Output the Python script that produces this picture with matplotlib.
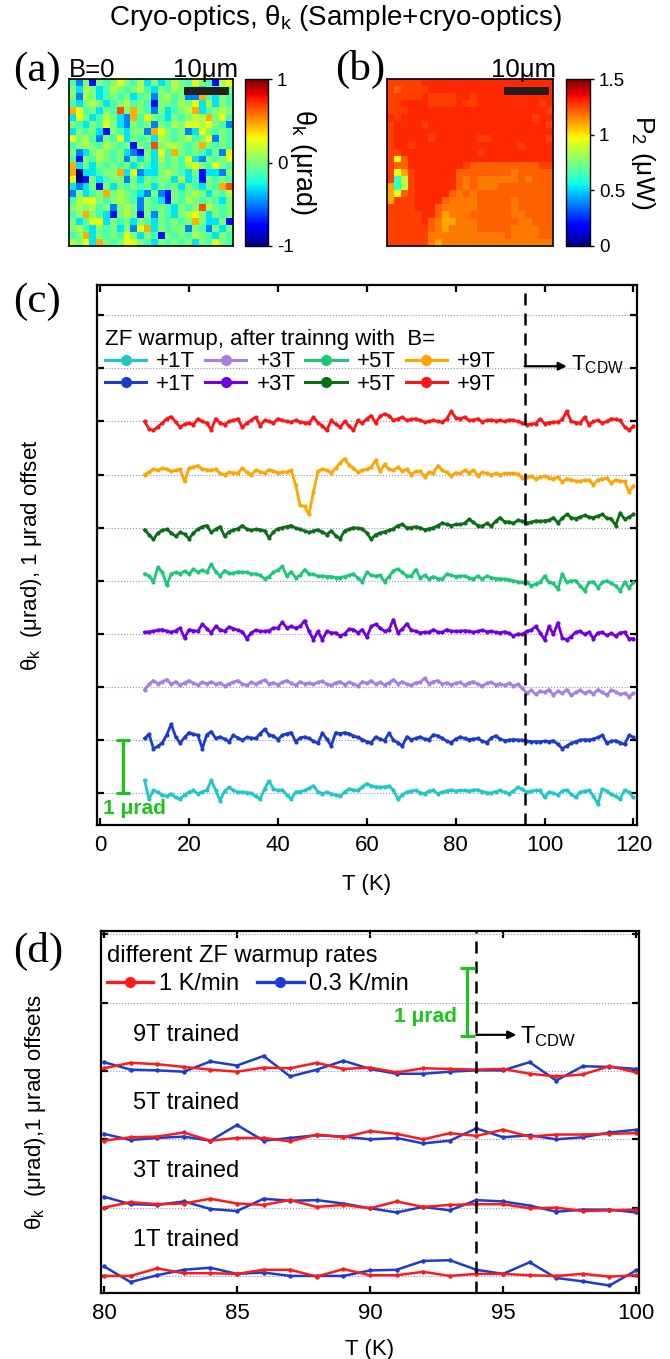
import numpy as np
import matplotlib
matplotlib.use("Agg")
import matplotlib.pyplot as plt
from matplotlib.lines import Line2D
from matplotlib.patches import Rectangle

plt.rcParams['font.family'] = ['Liberation Sans', 'DejaVu Sans']
plt.rcParams['mathtext.fontset'] = 'custom'
plt.rcParams['mathtext.rm'] = 'Liberation Sans'
plt.rcParams['mathtext.it'] = 'Liberation Sans:italic'
plt.rcParams['mathtext.bf'] = 'Liberation Sans:bold'
plt.rcParams['axes.unicode_minus'] = False

# ---------------- data ----------------
# (a) Kerr map at B=0, one character per pixel (level codes below)
map_a_rows = [
    "glGbGgGYGgycGcgyGgYGgbyY",
    "GcyGcgyGgGygcGgyGgGcGgyG",
    "GlyGcgGgGcgGlGygGllogcGg",
    "gcGyGcgGygGgbGGgyGYcycGg",
    "oYgGcGgrGoGglGcgGyocgGyG",
    "cYGcgyGclogYGgcGgGyyoGYg",
    "GgcGgYGclGgGlGgyGYYyYGgl",
    "cGgGcbGgcGGloYGgGlcYGgGg",
    "YGyglGgYcGgGcyGgGygGYlGg",
    "gGyGgyGgGbGgrGyyGgGoGgGg",
    "GlcGyGgGclbGcYgoGgGgcGlY",
    "gbGgyGgGlGcGcygGgYclGgGY",
    "ocGcGgGgGcGgcGgGgyYGgYGg",
    "oBccgGGocYlccGyGgcGbcclG",
    "YBbGcgGGlGcGgGGcycgbGgGg",
    "clcGbGcGgGgGcGgGcGgcGgor",
    "lGcgGoGyGgclGlbGgGyGcGgy",
    "gyYYGgGyGglGgcbGgyGgGgcG",
    "GyGygGlGyGlGgGgcGgGryGgG",
    "gGoGgcbGyGbGlGgcGyYGcGgG",
    "GcgYYcGgGcGgcGgGgGoGccGb",
    "GygcGgGcGlYocGgGGlGglGcG",
    "gGocGgGgYGcGgbGgGgyGgcGg",
    "yGYcoGgGYYGgcGgGgGcGgYGg",
]
level_a = {'B': -1.0, 'b': -0.72, 'l': -0.5, 'c': -0.3, 'g': -0.12,
           'G': 0.0, 'y': 0.12, 'Y': 0.25, 'o': 0.45, 'r': 0.65}

# (b) reflected power map P2
map_b_rows = [
    "rrrrrRRRRRRRRRRRRRRRRRRR",
    "rorrrrRRRRRRRRRRRRRRRRRR",
    "rrrrrRrrrrRRrRRRRRRRRRRR",
    "rrRRRRrrrrRrrRRRRRRRRRrR",
    "rrrRRRRRRRRRRRRRRRRRRRRr",
    "RrRRRRRRRRRRRRRRRRRRRrRR",
    "rRRRRrRRRRRRRRRRRRRRRRRr",
    "rRRRRRRRRRRRRRRRRRRRRRRR",
    "rRRRRRrRRRRRRrrRRRRRRRRr",
    "rRRrRRRRRRRRRRRRRRRrRRRR",
    "rrRRRRRRRRRRRrRRRRRRRRRR",
    "rYoRRRRRRRRRRRRRRRRRRRRR",
    "rooRRRRRRRRroooooooooorr",
    "rYyrRRRRRRooooooooOooooo",
    "rCLrRRRRRRoOoOOOOOOoOooo",
    "yCLrRRRRRRoOoOOOoooooooo",
    "yYorRRRRRoOoOooooooooooo",
    "yrrrRRRRoOOOOoooooOooooo",
    "rrrrRRRoOOOOOoooooOooooo",
    "rrrrrRRoyOOOooooooOOoooo",
    "rrrrrRoOyyOOOooooooOOooo",
    "rrrrrroOyOOOOoooooOOOOoo",
    "rrrrrrOOOOOOOOOOOoOOOOoo",
    "rrrrrrOyOOOOOOOOOOOOOOOO",
]
level_b = {'R': 1.30, 'r': 1.26, 'o': 1.21, 'O': 1.17, 'y': 1.10,
           'Y': 0.95, 'L': 0.85, 'C': 0.62}

# (c) ZF warmup traces, T = 10..120 K, deviations in 0.01 urad
T_c = np.arange(10, 121)
labels_c = ["+1T", "+1T", "+3T", "+3T", "+5T", "+5T", "+9T", "+9T"]
colors_c = ["#1ec8c8", "#1a3cc8", "#a87ee0", "#7000e0",
            "#1cc878", "#0a6e14", "#ffa500", "#ff1414"]
dev_cyan = [24, -11, 5, 2, -4, -6, -1, -8, -11, -3,
            2, 5, -1, 3, 5, 24, 6, -14, 4, 11,
            5, 2, 2, 1, 0, -6, -11, 8, 23, 8,
            5, 6, -3, -11, 2, 3, 5, 9, 14, 3,
            -1, 2, -1, -3, -6, 2, 8, 6, 5, 12,
            18, 14, 12, 11, 12, 13, 6, -11, -3, 2,
            4, 5, 1, -1, 4, 5, -1, 2, 4, 6,
            4, 5, 5, 4, 6, 6, 3, 1, 0, 3,
            5, 2, -1, 4, 11, 7, 2, 4, 5, 5,
            -8, 2, 0, -3, 4, 6, -2, -8, 2, 4,
            5, -5, -21, 8, 4, -2, -6, -11, 6, 2,
            -8]
dev_blue = [3, 11, -16, -12, -5, 10, 30, 6, -6, 5,
            14, 11, 9, -16, 10, 16, 3, 6, 2, -3,
            9, 4, 0, 5, 4, 3, 12, 20, 10, 8,
            1, 9, 12, 14, -3, 4, 6, 3, -2, -6,
            13, 2, -11, 14, 12, 14, 12, 8, 5, 1,
            -3, -5, 6, 2, -1, 13, 0, -5, -11, 6,
            1, 3, 6, 2, 1, 10, 8, 3, -2, -5,
            2, 6, 3, 1, 2, 3, -2, -5, 4, 8,
            2, -1, 0, 1, 0, 0, -2, -3, -3, -3,
            -2, -3, -1, -8, -16, -11, -6, -3, 0, 1,
            0, 2, 5, 9, -6, -2, -1, -5, -8, 9,
            5]
dev_lavender = [-5, 5, 12, 6, 10, 14, 5, 10, 3, 8,
                12, 7, 4, 9, 6, 10, 5, 8, 2, 6,
                9, 12, 6, 3, 9, 5, 10, 13, 6, 8,
                4, 9, 12, 7, 3, 10, 6, 8, 5, 9,
                11, 5, 3, 8, 10, 4, 9, 6, 2, 10,
                7, 12, 5, 9, 4, 8, 14, 6, 10, 5,
                3, 8, 9, 16, 6, 10, 12, 5, 8, 4,
                7, 9, 3, 8, 10, 5, 2, 7, 9, 4,
                6, 3, 7, 2, 5, -2, -12, -6, -14, -8,
                -10, -5, -15, -8, -12, -5, -16, -10, -6, -12,
                -8, -13, -5, -10, -15, -6, -9, -14, -12, -18,
                -12]
dev_purple = [3, 4, 5, 7, 8, 5, 3, 6, 11, -8,
              8, 6, 5, 18, 10, 2, 14, 8, 5, 13,
              10, 7, 4, -9, 2, 7, 5, 5, 6, 11,
              11, 22, 11, 14, 11, 14, 25, 5, -11, 5,
              -11, 5, 2, 2, -4, 0, 9, 8, 2, 8,
              -6, 14, 18, 11, 5, 8, 27, 2, 9, 19,
              7, 5, 2, 3, 3, 8, 3, 3, 8, 5,
              5, 5, 6, 5, 3, 5, 7, 4, 5, 3,
              2, 4, 1, -4, 0, -1, 5, 7, 14, 2,
              -11, 14, -1, 21, -8, -11, -5, 3, 5, -1,
              3, -9, 2, 3, -3, 1, -4, 2, 3, -9,
              -9]
dev_green = [13, 9, -2, 25, 16, -8, 13, 16, 13, 18,
             13, 22, 16, 20, 16, 31, 17, 9, 19, 14,
             14, 17, 16, 16, 13, 13, 10, 4, 8, 16,
             20, 27, 9, 17, 6, 10, 21, 13, 12, 9,
             9, 8, 8, 6, 6, 8, 10, 13, 5, -2,
             16, 10, 9, 10, -2, 8, 19, 22, 16, 9,
             9, 21, 6, 10, 4, 8, 4, 3, 13, 10,
             8, 9, 9, 6, 3, 9, 3, 9, 6, 4,
             4, 3, 2, 0, -2, -3, -3, -9, -6, -3,
             9, -3, -5, -16, 13, -3, 0, 0, -9, -19,
             -3, -2, -13, -3, 0, -5, -9, -19, -3, -13,
             -3]
dev_dkgreen = [-4, -13, -22, -10, -5, -3, -10, -16, -9, -12,
               -21, -10, -3, 2, 4, -9, -3, 2, -16, -8,
               -4, -2, 4, -3, -5, -3, -4, -6, -19, -8,
               -2, 0, 2, 4, -1, -3, -6, -9, -6, -4,
               -8, -13, -6, -15, -21, -6, -3, 0, -1, -2,
               -10, -22, -13, -10, -8, -5, -2, 4, 6, 0,
               0, 2, 0, -4, -2, 0, 4, 9, 6, 4,
               6, 6, 8, 16, 10, 4, 3, 8, 3, 12,
               19, 11, 11, 8, 14, 12, 9, 10, 13, 12,
               13, 14, 19, 9, 18, 25, 19, 17, 20, 23,
               20, 19, 22, 25, 18, 17, 4, 28, 16, 20,
               25]
dev_orange = [0, 5, 10, 8, 12, 10, 6, 8, 10, -13,
              12, 14, 17, 10, 9, 8, 10, 2, 0, 4,
              3, 3, 12, 4, 0, 8, 5, 3, 9, 7,
              3, 4, 5, 8, -20, -58, -60, -75, -33, 6,
              10, 8, 3, 12, 22, 30, 18, 12, 4, 8,
              10, 14, 27, 6, 19, 10, 8, 14, 6, 10,
              0, 6, 6, -4, 4, 3, 17, 8, 4, -2,
              3, 2, 8, 3, 8, -2, 4, 2, 0, 2,
              0, 2, 2, 2, 1, -6, -4, -3, -8, -5,
              -3, -6, -8, -5, -14, -8, -10, -12, -13, -10,
              -11, -19, -10, -8, -7, -16, -10, -12, -13, -33,
              -21]
dev_red = [0, -14, -17, -10, -3, 5, 9, -1, -11, -5,
           -3, -6, 5, 0, -3, -16, 5, -3, -6, 0,
           2, 5, -11, -3, 2, 8, -8, 2, 0, -3,
           5, 2, 0, -1, 2, -1, -2, -3, 8, -2,
           -8, -17, 2, -5, -11, 0, -8, -17, 2, -3,
           5, 11, -3, 10, 14, 11, 2, 5, 8, 2,
           4, 5, 2, -1, 0, 2, 0, -1, 5, 19,
           7, 5, 8, 2, 3, 5, -1, 2, 3, 1,
           2, 0, 3, 2, 0, -3, -6, -5, -4, 5,
           -4, -2, -1, -1, 4, 19, 0, -2, -3, 8,
           -6, 0, 2, -3, 0, 5, 4, 2, -10, -16,
           -9]
devs_c = [dev_cyan, dev_blue, dev_lavender, dev_purple,
          dev_green, dev_dkgreen, dev_orange, dev_red]
T_cdw_c = 95.5

# (d) warmup-rate comparison, T = 80..100 K, deviations in 0.01 urad
T_d = np.arange(80, 101)
trained_d = ["1T trained", "3T trained", "5T trained", "9T trained"]
dev_d_fast = [  # 1 K/min
    [0, 0, 11, 4, 4, 3, 9, 9, -1, 10, 1, 1, 6, 0, 3, 3, 1, 0, 3, -1, 1],
    [0, 8, 5, 6, 13, 6, 4, 11, 1, 4, -1, 9, 1, 4, 5, 5, -1, 0, -5, -4, -3],
    [-2, 3, 4, 10, -2, 2, 2, -3, 7, 3, 12, 8, 0, 9, 5, 14, 4, 7, 7, 8, 9],
    [4, 12, 10, 6, 2, -1, 5, 4, 12, 3, 5, -2, 4, 3, 2, 3, -4, -8, -5, 7, -2],
]
dev_d_slow = [  # 0.3 K/min
    [14, -9, 1, 9, 12, 3, 5, 0, 0, 0, 8, 9, 22, 23, 9, 3, 20, -3, -8, -14, 8],
    [16, 5, 4, 9, -2, -5, 13, 10, 11, 6, -1, -7, 1, -4, 11, 9, 3, -6, -3, -3, -7],
    [8, -1, 2, 4, -2, 21, -2, 2, 6, 4, 0, 2, -6, -2, 16, 3, 6, 0, 3, 10, 14],
    [13, 2, 1, -1, 14, 8, 22, -8, 2, 15, 3, -4, -4, -1, 1, 1, 13, -14, 7, 6, 3],
]
rate_labels = ["1 K/min", "0.3 K/min"]
rate_colors = ["#ff1a1a", "#1a3cd2"]
T_cdw_d = 94.0

scale_green = "#14c814"
bar_c = (5.1, 0.0, 1.0)        # x, y_low, y_high
bar_d = (93.65, 3.52, 4.51)

# ---------------- figure ----------------
W, H = 670, 1359
fig = plt.figure(figsize=(W / 100, H / 100), dpi=100)


def px_axes(x0, y0, x1, y1):
    return fig.add_axes([x0 / W, 1 - y1 / H, (x1 - x0) / W, (y1 - y0) / H])


fig.text(0.5, 1 - 18 / H, "Cryo-optics, θ$_\\mathrm{k}$ (Sample+cryo-optics)",
         ha='center', va='center', fontsize=20)

serif = dict(family='Liberation Serif', fontsize=31, va='center', ha='left')
fig.text(13 / W, 1 - 71 / H, "(a)", **serif)
fig.text(335 / W, 1 - 69 / H, "(b)", **serif)
fig.text(13 / W, 1 - 302 / H, "(c)", **serif)
fig.text(13 / W, 1 - 951 / H, "(d)", **serif)

# (a)
axa = px_axes(69, 79, 233, 246)
A = np.array([[level_a[ch] for ch in row] for row in map_a_rows])
ima = axa.imshow(A, cmap='jet', vmin=-1, vmax=1, aspect='auto', interpolation='nearest')
axa.set_xticks([]); axa.set_yticks([])
for s in axa.spines.values():
    s.set_linewidth(1.2)
axa.add_patch(Rectangle((0.70, 0.905), 0.275, 0.048, transform=axa.transAxes,
                        color='#231f20', lw=0))
axa.text(0.0, 1.012, "B=0", transform=axa.transAxes, ha='left', va='baseline', fontsize=18.5)
axa.text(0.83, 1.012, "10μm", transform=axa.transAxes, ha='center', va='baseline', fontsize=18.5)
caxa = px_axes(245, 79, 268, 246)
cba = fig.colorbar(ima, cax=caxa, ticks=[-1, 0, 1])
cba.ax.tick_params(labelsize=13.5, length=3, width=1)
cba.outline.set_linewidth(1)
cba.set_label("θ$_\\mathrm{k}$ (μrad)", rotation=270, va='bottom', fontsize=19.5, labelpad=-4)

# (b)
axb = px_axes(387, 79, 553, 246)
B = np.array([[level_b[ch] for ch in row] for row in map_b_rows])
imb = axb.imshow(B, cmap='jet', vmin=0, vmax=1.5, aspect='auto', interpolation='nearest')
axb.set_xticks([]); axb.set_yticks([])
for s in axb.spines.values():
    s.set_linewidth(1.2)
axb.add_patch(Rectangle((0.703, 0.904), 0.271, 0.05, transform=axb.transAxes,
                        color='#231f20', lw=0))
axb.text(0.825, 1.012, "10μm", transform=axb.transAxes, ha='center', va='baseline', fontsize=18.5)
caxb = px_axes(566, 79, 590, 246)
cbb = fig.colorbar(imb, cax=caxb, ticks=[0, 0.5, 1, 1.5])
cbb.ax.set_yticklabels(["0", "0.5", "1", "1.5"])
cbb.ax.tick_params(labelsize=13.5, length=3, width=1)
cbb.outline.set_linewidth(1)
cbb.set_label("P$_2$ (μW)", rotation=270, va='bottom', fontsize=19, labelpad=3)


def style_axes(ax):
    for s in ax.spines.values():
        s.set_linewidth(1.6)
    ax.tick_params(direction='in', top=True, right=True, length=5, width=1.6,
                   labelsize=16, pad=7)
    ax.set_yticklabels([])
    ax.grid(axis='y', color='#8c8cf0', linestyle=':', linewidth=0.8)
    ax.set_axisbelow(True)


# (c)
axc = px_axes(97, 285, 637, 825)
for i, (dev, col) in enumerate(zip(devs_c, colors_c)):
    axc.plot(T_c, i + np.array(dev) / 100.0, '-o', color=col, lw=2.0, ms=3.0, mew=0)
axc.set_xlim(-0.7, 120.8)
axc.set_ylim(-0.6, 9.57)
axc.set_xticks(np.arange(0, 121, 20))
axc.set_yticks(np.arange(0, 10))
style_axes(axc)
axc.axvline(T_cdw_c, color='k', lw=1.8, ls=(0, (4.8, 3.2)))
axc.annotate('', xy=(105.0, 8.04), xytext=(T_cdw_c, 8.04),
             arrowprops=dict(arrowstyle='-|>', color='k', lw=1.6, mutation_scale=12,
                             shrinkA=0, shrinkB=0))
axc.text(105.9, 7.97, "T$_\\mathrm{CDW}$", fontsize=16, va='baseline', ha='left')
axc.errorbar([bar_c[0]], [(bar_c[1] + bar_c[2]) / 2], yerr=[(bar_c[2] - bar_c[1]) / 2],
             color=scale_green, capsize=5, elinewidth=2.2, capthick=2.2)
axc.text(0.6, -0.28, "1 μrad", color=scale_green, fontweight='bold', fontsize=15,
         va='center', ha='left')
handles_c = [Line2D([], [], color=c, marker='o', ms=7, lw=2.2) for c in colors_c]
axc.legend(handles_c, labels_c, ncol=4, loc='upper left', bbox_to_anchor=(0.015, 0.918),
           frameon=False, fontsize=16, title="ZF warmup, after trainng with  B=",
           title_fontsize=16, alignment='left', handlelength=1.85, handletextpad=0.45,
           columnspacing=0.45, labelspacing=0.05, borderpad=0, borderaxespad=0)
axc.set_xlabel("T (K)", fontsize=16, labelpad=13)
axc.set_ylabel("θ$_\\mathrm{k}$  (μrad), 1 μrad offset", fontsize=16, labelpad=31)

# (d)
axd = px_axes(101, 931, 639, 1293)
for i in range(len(trained_d)):
    axd.plot(T_d, i + np.array(dev_d_slow[i]) / 100.0, '-o', color=rate_colors[1],
             lw=1.8, ms=3.2, mew=0)
    axd.plot(T_d, i + np.array(dev_d_fast[i]) / 100.0, '-o', color=rate_colors[0],
             lw=1.8, ms=3.2, mew=0)
    axd.text(81.1, i + 0.53, trained_d[i], fontsize=17, va='center', ha='left')
axd.set_xlim(79.89, 100.11)
axd.set_ylim(-0.25, 5.05)
axd.set_xticks(np.arange(80, 101, 5))
axd.set_yticks(np.arange(0, 6))
style_axes(axd)
axd.axvline(T_cdw_d, color='k', lw=1.8, ls=(0, (4.8, 3.2)))
axd.annotate('', xy=(95.5, 3.53), xytext=(T_cdw_d, 3.53),
             arrowprops=dict(arrowstyle='-|>', color='k', lw=1.6, mutation_scale=12,
                             shrinkA=0, shrinkB=0))
axd.text(95.64, 3.41, "T$_\\mathrm{CDW}$", fontsize=17, va='baseline', ha='left')
axd.errorbar([bar_d[0]], [(bar_d[1] + bar_d[2]) / 2], yerr=[(bar_d[2] - bar_d[1]) / 2],
             color=scale_green, capsize=5.4, elinewidth=2.2, capthick=2.2)
axd.text(93.27, 3.8, "1 μrad", color=scale_green, fontweight='bold', fontsize=15,
         va='center', ha='right')
handles_d = [Line2D([], [], color=c, marker='o', ms=7, lw=2.4) for c in rate_colors]
axd.legend(handles_d, rate_labels, ncol=2, loc='upper left', bbox_to_anchor=(0.012, 0.962),
           frameon=False, fontsize=17, title="different ZF warmup rates",
           title_fontsize=17, alignment='left', handlelength=1.95, handletextpad=0.25,
           columnspacing=0.76, labelspacing=0.26, borderpad=0, borderaxespad=0)
axd.set_xlabel("T (K)", fontsize=16, labelpad=11)
axd.set_ylabel("θ$_\\mathrm{k}$  (μrad),1 μrad offsets", fontsize=16, labelpad=31)

fig.savefig("out.png", dpi=100)
